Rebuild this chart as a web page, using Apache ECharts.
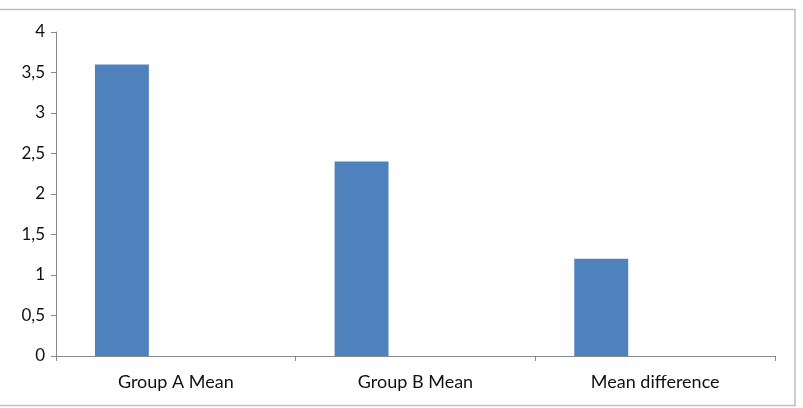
<!DOCTYPE html>
<html>
<head>
	<meta charset="UTF-8">
	<script src="https://cdn.jsdelivr.net/npm/echarts@6/dist/echarts.min.js"></script>
	<style>
		body { margin: 0; padding: 0; background: #fff; }
		#chart { position: absolute; left: 0; top: 0; width: 803px; height: 408px; }
	</style>
</head>
<body>
	<div id="chart"></div>
	<script>
		// 数据
		var categories = ['Group A Mean', 'Group B Mean', 'Mean difference'];
		var values = [3.6, 2.4, 1.2];
		var yTicks = [0, 0.5, 1, 1.5, 2, 2.5, 3, 3.5, 4];

		var axisColor = '#898989';
		var chart = echarts.init(document.getElementById('chart'));
		var option = {
			animation: false,
			graphic: [{
				type: 'rect',
				shape: { x: -2, y: 9.5, width: 797, height: 396 },
				style: { fill: 'none', stroke: '#c0c0c0', lineWidth: 1.5 },
				silent: true
			}],
			grid: { left: 56, right: 28, top: 32, bottom: 52 },
			xAxis: {
				type: 'category',
				data: categories,
				axisLine: { lineStyle: { color: axisColor } },
				axisTick: { show: true, length: 5, lineStyle: { color: axisColor } },
				axisLabel: { color: '#111', fontSize: 18, fontFamily: 'Lato', margin: 17 }
			},
			yAxis: {
				type: 'value',
				min: yTicks[0],
				max: yTicks[yTicks.length - 1],
				interval: 0.5,
				splitLine: { show: false },
				axisLine: { show: true, lineStyle: { color: axisColor } },
				axisTick: { show: true, length: 5, lineStyle: { color: axisColor } },
				axisLabel: {
					color: '#111', fontSize: 17, fontFamily: 'Lato', margin: 11,
					formatter: function (v) { return String(v).replace('.', ','); }
				}
			},
			series: [
				{ type: 'bar', data: values, barGap: '0%', barCategoryGap: '32.5%', itemStyle: { color: '#4f81bd' } },
				{ type: 'bar', data: [null, null, null] },
				{ type: 'bar', data: [null, null, null] }
			]
		};
		chart.setOption(option);
	</script>
</body>
</html>
